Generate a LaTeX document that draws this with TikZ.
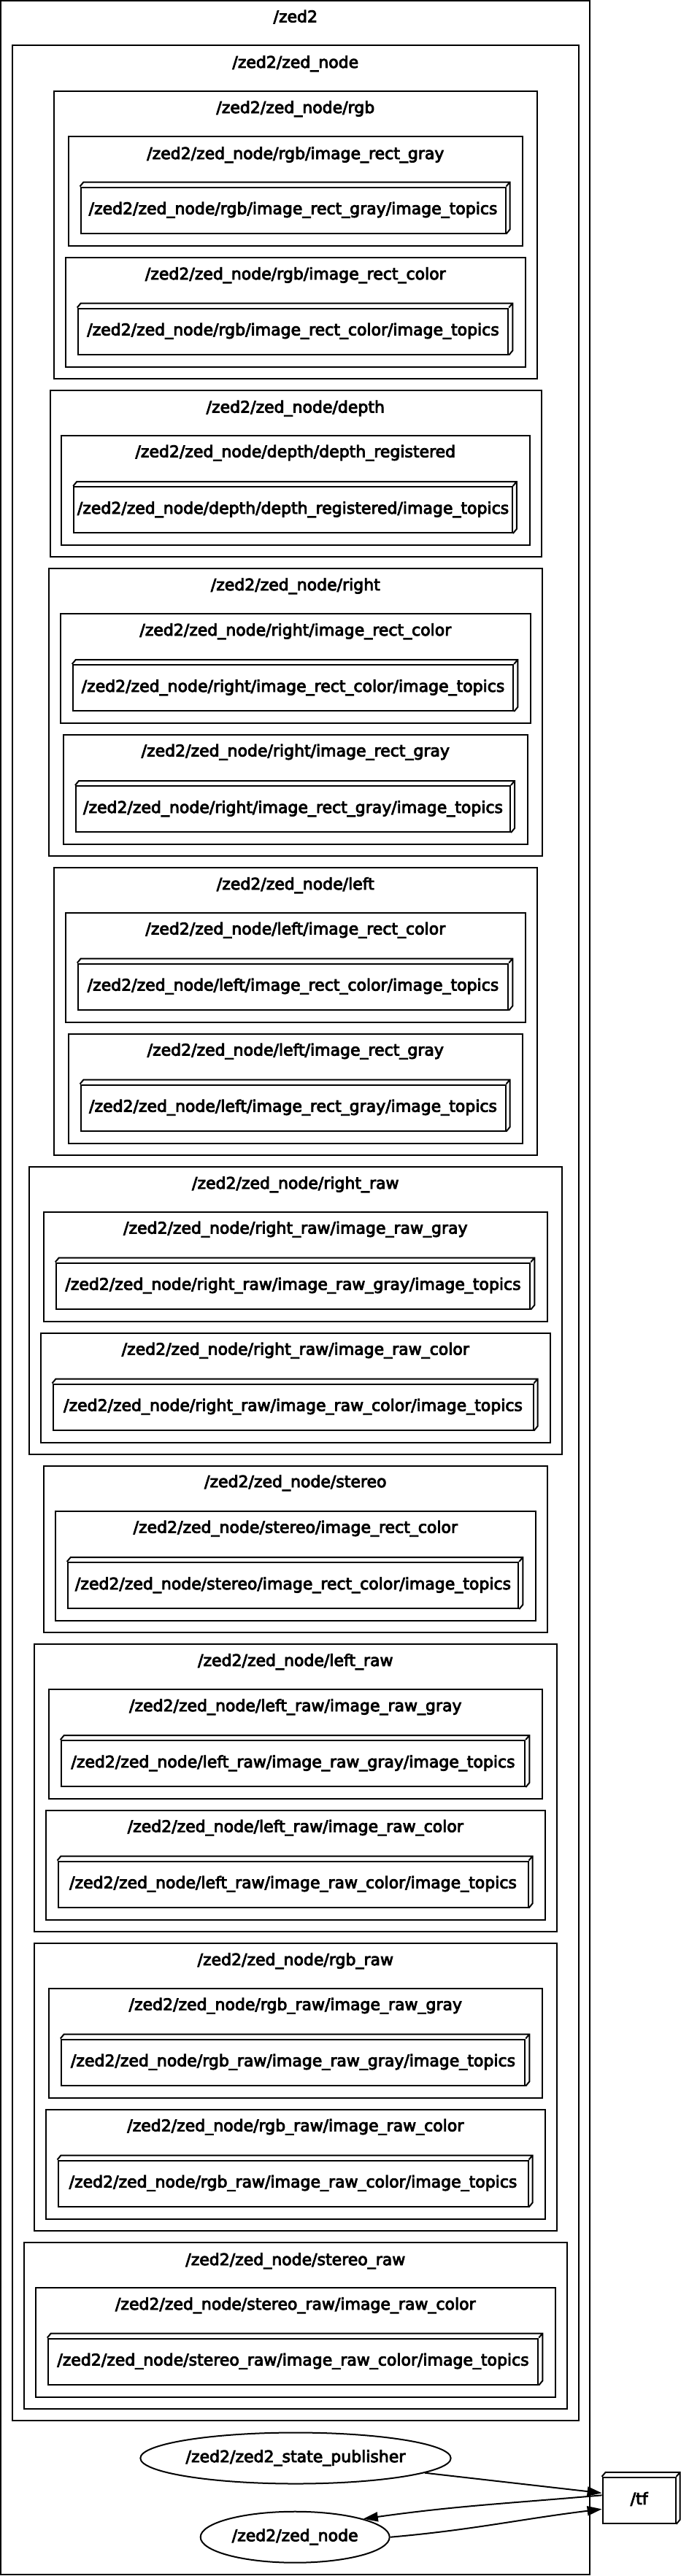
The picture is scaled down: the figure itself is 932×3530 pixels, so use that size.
\documentclass[tikz,border=0pt]{standalone}
\usepackage{fontspec}
\setmainfont{DejaVu Sans}
\newfontfamily\rqtfont{DejaVu Sans}[FakeBold=4]
\usetikzlibrary{arrows.meta,shapes.geometric}

\begin{document}
\begin{tikzpicture}[x=1pt, y=-1pt, line width=2pt,
        every node/.style={font=\rqtfont\fontsize{22}{26}\selectfont, inner sep=0pt, text height=16pt, text depth=5pt},
        cluster/.style={draw},
        topic/.style={draw, rectangle, minimum height=63pt},
        rosnode/.style={draw, ellipse, minimum height=70pt},
        pubarrow/.style={-{Triangle[length=20pt,width=13pt]}}]
        \useasboundingbox (0,0) rectangle (932,3530);

        % Namespace esterni
        \draw[cluster] (1,1) rectangle (808,3528);
        \node (tZed) at (404.8,25) {/zed2};
        \draw[cluster] (16.5,62.5) rectangle (793,3316.5);
        \node (tZedNode) at (404.8,87.5) {/zed2/zed\_node};

        % rgb
        \draw[cluster] (73.5,125) rectangle (736,518.5);
        \node (tRgb) at (404.8,149.5) {/zed2/zed\_node/rgb};
        \draw[cluster] (94,186.5) rectangle (715.5,336.5);
        \node (tRgbGray) at (404.8,212.5) {/zed2/zed\_node/rgb/image\_rect\_gray};
        \node (rgbGray) at (401.5,288) [topic, minimum width=582pt] {/zed2/zed\_node/rgb/image\_rect\_gray/image\_topics};
        \draw[cluster] (90,353) rectangle (720,503);
        \node (tRgbColor) at (404.8,377.5) {/zed2/zed\_node/rgb/image\_rect\_color};
        \node (rgbColor) at (401.5,454) [topic, minimum width=589.5pt] {/zed2/zed\_node/rgb/image\_rect\_color/image\_topics};

        % depth
        \draw[cluster] (68.5,534.5) rectangle (742,762.5);
        \node (tDepth) at (404.8,560) {/zed2/zed\_node/depth};
        \draw[cluster] (84,596.5) rectangle (726,746.5);
        \node (tDepthReg) at (404.8,621) {/zed2/zed\_node/depth/depth\_registered};
        \node (depthReg) at (401.5,698.5) [topic, minimum width=600.5pt] {/zed2/zed\_node/depth/depth\_registered/image\_topics};

        % right
        \draw[cluster] (67,779) rectangle (742.5,1172.5);
        \node (tRight) at (404.8,803.5) {/zed2/zed\_node/right};
        \draw[cluster] (82.5,841) rectangle (727,991);
        \node (tRightColor) at (404.8,865.5) {/zed2/zed\_node/right/image\_rect\_color};
        \node (rightColor) at (401.5,942.5) [topic, minimum width=603.5pt] {/zed2/zed\_node/right/image\_rect\_color/image\_topics};
        \draw[cluster] (87,1006.5) rectangle (723,1156.5);
        \node (tRightGray) at (404.8,1031) {/zed2/zed\_node/right/image\_rect\_gray};
        \node (rightGray) at (401.5,1108.5) [topic, minimum width=595pt] {/zed2/zed\_node/right/image\_rect\_gray/image\_topics};

        % left
        \draw[cluster] (73.5,1189) rectangle (736,1583);
        \node (tLeft) at (404.8,1213.5) {/zed2/zed\_node/left};
        \draw[cluster] (90,1250.5) rectangle (720,1400.5);
        \node (tLeftColor) at (404.8,1275) {/zed2/zed\_node/left/image\_rect\_color};
        \node (leftColor) at (401.5,1352) [topic, minimum width=589.5pt] {/zed2/zed\_node/left/image\_rect\_color/image\_topics};
        \draw[cluster] (94,1417) rectangle (715.5,1567);
        \node (tLeftGray) at (404.8,1441) {/zed2/zed\_node/left/image\_rect\_gray};
        \node (leftGray) at (401.5,1518) [topic, minimum width=582pt] {/zed2/zed\_node/left/image\_rect\_gray/image\_topics};

        % right_raw
        \draw[cluster] (40,1599) rectangle (770,1993);
        \node (tRightRaw) at (404.8,1623.5) {/zed2/zed\_node/right\_raw};
        \draw[cluster] (59.5,1660.5) rectangle (749.5,1810.5);
        \node (tRightRawGray) at (404.8,1685) {/zed2/zed\_node/right\_raw/image\_raw\_gray};
        \node (rightRawGray) at (401.5,1762) [topic, minimum width=649.5pt] {/zed2/zed\_node/right\_raw/image\_raw\_gray/image\_topics};
        \draw[cluster] (56,1826.5) rectangle (753.5,1976.5);
        \node (tRightRawColor) at (404.8,1851) {/zed2/zed\_node/right\_raw/image\_raw\_color};
        \node (rightRawColor) at (401.5,1928) [topic, minimum width=658pt] {/zed2/zed\_node/right\_raw/image\_raw\_color/image\_topics};

        % stereo
        \draw[cluster] (60,2009) rectangle (749.5,2236.5);
        \node (tStereo) at (404.8,2032.5) {/zed2/zed\_node/stereo};
        \draw[cluster] (75.5,2071) rectangle (734,2221);
        \node (tStereoColor) at (404.8,2095) {/zed2/zed\_node/stereo/image\_rect\_color};
        \node (stereoColor) at (401.5,2172.5) [topic, minimum width=617.5pt] {/zed2/zed\_node/stereo/image\_rect\_color/image\_topics};

        % left_raw
        \draw[cluster] (46.5,2252.5) rectangle (762.5,2646.5);
        \node (tLeftRaw) at (404.8,2277.5) {/zed2/zed\_node/left\_raw};
        \draw[cluster] (66.5,2315) rectangle (743,2465);
        \node (tLeftRawGray) at (404.8,2339.5) {/zed2/zed\_node/left\_raw/image\_raw\_gray};
        \node (leftRawGray) at (401.5,2416.5) [topic, minimum width=635.5pt] {/zed2/zed\_node/left\_raw/image\_raw\_gray/image\_topics};
        \draw[cluster] (62.5,2480.5) rectangle (746.5,2630.5);
        \node (tLeftRawColor) at (404.8,2505) {/zed2/zed\_node/left\_raw/image\_raw\_color};
        \node (leftRawColor) at (401.5,2582) [topic, minimum width=644pt] {/zed2/zed\_node/left\_raw/image\_raw\_color/image\_topics};

        % rgb_raw
        \draw[cluster] (46.5,2663) rectangle (762.5,3057);
        \node (tRgbRaw) at (404.8,2687.5) {/zed2/zed\_node/rgb\_raw};
        \draw[cluster] (66.5,2724.5) rectangle (743,2874.5);
        \node (tRgbRawGray) at (404.8,2749) {/zed2/zed\_node/rgb\_raw/image\_raw\_gray};
        \node (rgbRawGray) at (401.5,2826) [topic, minimum width=635.5pt] {/zed2/zed\_node/rgb\_raw/image\_raw\_gray/image\_topics};
        \draw[cluster] (62.5,2890.5) rectangle (746.5,3040.5);
        \node (tRgbRawColor) at (404.8,2915) {/zed2/zed\_node/rgb\_raw/image\_raw\_color};
        \node (rgbRawColor) at (401.5,2992) [topic, minimum width=644pt] {/zed2/zed\_node/rgb\_raw/image\_raw\_color/image\_topics};

        % stereo_raw
        \draw[cluster] (32.5,3072.5) rectangle (777,3300.5);
        \node (tStereoRaw) at (404.8,3098.5) {/zed2/zed\_node/stereo\_raw};
        \draw[cluster] (48.5,3135) rectangle (761,3284.5);
        \node (tStereoRawColor) at (404.8,3159.5) {/zed2/zed\_node/stereo\_raw/image\_raw\_color};
        \node (stereoRawColor) at (401.5,3236) [topic, minimum width=671.5pt] {/zed2/zed\_node/stereo\_raw/image\_raw\_color/image\_topics};

        % Nodi
        \node (sp) at (405,3368.5) [rosnode, minimum width=423.5pt] {/zed2/zed2\_state\_publisher};
        \node (zn) at (404.2,3476.7) [rosnode, minimum width=259pt] {/zed2/zed\_node};
        \node (tf) at (875.6,3426.3) [topic, minimum width=100pt] {/tf};

        % Effetto 3D dei topic
        \foreach \n in {rgbGray,rgbColor,depthReg,rightColor,rightGray,leftColor,leftGray,rightRawGray,rightRawColor,stereoColor,leftRawGray,leftRawColor,rgbRawGray,rgbRawColor,stereoRawColor,tf}
            \draw (\n.north west) -- ++(5,-6) -- ([shift={(5,-6)}]\n.north east) -- ([shift={(5,-6)}]\n.south east) -- (\n.south east)
                  (\n.north east) -- ++(5,-6);

        % Collegamenti
        \draw[pubarrow] (sp) -- ([yshift=10pt]tf.west);
        \draw[pubarrow] ([yshift=7pt]tf.west) to[out=185, in=8] (zn.15);
        \draw[pubarrow] (zn.east) to[out=5, in=187] ([yshift=-12pt]tf.west);
    \end{tikzpicture}
\end{document}
